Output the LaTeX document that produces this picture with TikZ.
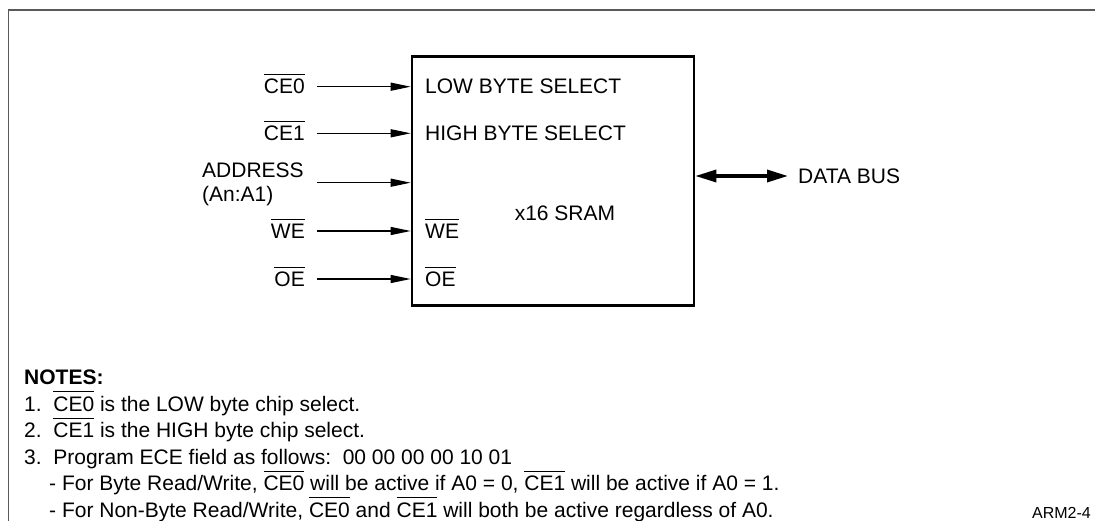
\documentclass[tikz,border=0pt]{standalone}
\usepackage{fontspec}
\setmainfont{Liberation Sans}
\usetikzlibrary{arrows.meta}
\newcommand\ovlt[2][4pt]{\leavevmode\vbox{\hrule height 1pt\kern#1\hbox{#2}}}
\begin{document}
\begin{tikzpicture}[x=1pt,y=-1pt,
  lbl/.style={inner sep=0pt,font=\fontsize{21}{25}\selectfont},
  note/.style={inner sep=0pt,anchor=base west,font=\fontsize{21}{25}\selectfont},
  sig/.style={line width=1.2pt,-{Triangle[length=20pt,width=8pt]}},
  bus/.style={line width=3.3pt,{Triangle[length=21pt,width=12pt]}-{Triangle[length=21pt,width=12pt]}},
  frame/.style={line width=1.5pt,draw=black!65}]
\useasboundingbox (0,0) rectangle (1095,521);
% frame
\coordinate (ftr) at (1095,10);
\coordinate (ftl) at (8.5,10);
\coordinate (fbl) at (8.5,521);
\draw[frame] (ftr) -- (ftl) -- (fbl);
% box
\node[draw,line width=2.6pt,minimum width=282pt,minimum height=249pt,inner sep=0pt] (sram) at (553,181) {};
% inner labels
\node[lbl,anchor=base west] (low) at (425,94) {LOW BYTE SELECT};
\node[lbl,anchor=base west] (high) at (425,141) {HIGH BYTE SELECT};
\node[lbl,anchor=base west] (iwe) at (425,238.5) {\ovlt{WE}};
\node[lbl,anchor=base west] (ioe) at (425,286.5) {\ovlt{OE}};
\node[lbl,anchor=base] (name) at (565,221) {x16 SRAM};
% outer labels
\node[lbl,anchor=base east] (lce0) at (305,94) {\ovlt{CE0}};
\node[lbl,anchor=base east] (lce1) at (305,141) {\ovlt{CE1}};
\node[lbl,anchor=base west] (laddr) at (202,178) {ADDRESS};
\node[lbl,anchor=base west] (laddr2) at (202,202) {(An:A1)};
\node[lbl,anchor=base east] (lwe) at (305,238.5) {\ovlt{WE}};
\node[lbl,anchor=base east] (loe) at (305,286.5) {\ovlt{OE}};
% arrow starts
\coordinate (sce0) at (317,86.7);
\coordinate (sce1) at (317,133.3);
\coordinate (saddr) at (317,182.7);
\coordinate (swe) at (317,231);
\coordinate (soe) at (317,279);
\draw[sig] (sce0) -- (sce0 -| sram.west);
\draw[sig] (sce1) -- (sce1 -| sram.west);
\draw[sig] (saddr) -- (saddr -| sram.west);
\draw[sig] (swe) -- (swe -| sram.west);
\draw[sig] (soe) -- (soe -| sram.west);
% data bus
\coordinate (busend) at (788,176);
\node[lbl,anchor=west] (dbus) at (798,176) {DATA BUS};
\draw[bus] (busend -| sram.east) -- (busend);
% notes
\node[note,font=\fontsize{21}{25}\selectfont\bfseries] (notes) at (24,384.5) {NOTES:};
\node[note] (n1) at (24,411) {1.\ \ \ovlt{CE0} is the LOW byte chip select.};
\node[note] (n2) at (24,437.5) {2.\ \ \ovlt{CE1} is the HIGH byte chip select.};
\node[note] (n3) at (24,464) {3.\ \ Program ECE field as follows:\ \ 00 00 00 00 10 01};
\node[note] (n4) at (49,490.5) {- For Byte Read/Write, \ovlt{CE0} will be active if A0 = 0, \ovlt{CE1} will be active if A0 = 1.};
\node[note] (n5) at (49,517) {- For Non-Byte Read/Write, \ovlt{CE0} and \ovlt{CE1} will both be active regardless of A0.};
\node[inner sep=0pt,anchor=base east,font=\fontsize{16}{19}\selectfont] (tag) at (1091,518) {ARM2-4};
\end{tikzpicture}
\end{document}
